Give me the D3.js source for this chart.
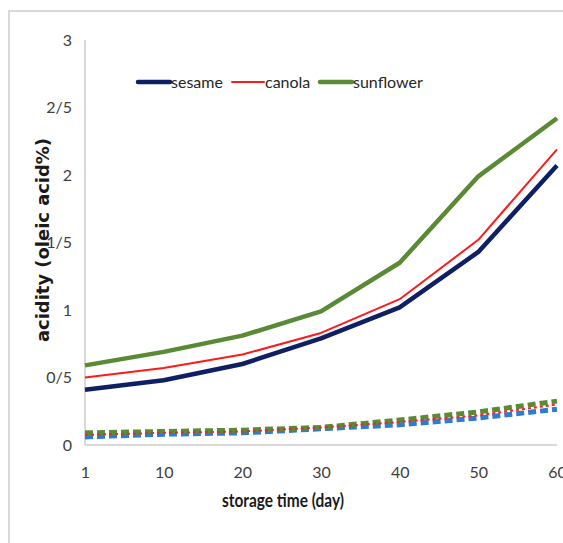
<meta charset="utf-8">

<style>
    body {
        margin: 0;
        background: #ffffff;
    }

    .tick text {
        font-family: Lato, sans-serif;
        font-size: 16px;
        fill: #404040;
    }
</style>

<body>
<script src="https://d3js.org/d3.v7.min.js"></script>
<script>

    const days = ["1", "10", "20", "30", "40", "50", "60"];
    const yTicks = [0, 0.5, 1, 1.5, 2, 2.5, 3];
    const yTickLabels = ["0", "0/5", "1", "1/5", "2", "2/5", "3"];

    // solid lines
    const sesame = [0.41, 0.48, 0.60, 0.79, 1.02, 1.43, 2.07];
    const canola = [0.50, 0.57, 0.67, 0.83, 1.08, 1.52, 2.19];
    const sunflower = [0.59, 0.69, 0.81, 0.99, 1.35, 1.99, 2.42];

    // dashed lines (unlabelled)
    const blueDash = [0.06, 0.08, 0.09, 0.12, 0.15, 0.20, 0.265];
    const redDot = [0.075, 0.09, 0.10, 0.13, 0.17, 0.22, 0.30];
    const greenDash = [0.09, 0.10, 0.11, 0.13, 0.185, 0.245, 0.325];

    let width = 563,
        height = 543;

    let svg = d3.select("body").append("svg")
        .attr("width", width)
        .attr("height", height);

    // outer frame
    svg.append("path")
        .attr("d", "M9," + height + "V11H" + width)
        .style("fill", "none")
        .style("stroke", "#d9d9d9")
        .style("stroke-width", 2);

    let xScale = d3.scalePoint()
        .domain(days)
        .range([85, 557]);

    let yScale = d3.scaleLinear()
        .domain([0, 3])
        .range([445, 40]);

    // axes
    let xAxis = svg.append("g")
        .attr("transform", "translate(0,445)")
        .call(d3.axisBottom(xScale).tickSize(0).tickPadding(22));
    xAxis.select(".domain")
        .attr("d", "M85,0H557")
        .style("stroke", "#d9d9d9")
        .style("stroke-width", 2);

    let yAxis = svg.append("g")
        .attr("transform", "translate(85,0)")
        .call(d3.axisLeft(yScale)
            .tickValues(yTicks)
            .tickFormat(function (d, i) { return yTickLabels[i]; })
            .tickSize(0)
            .tickPadding(13));
    yAxis.select(".domain")
        .attr("d", "M0,445V40")
        .style("stroke", "#d9d9d9")
        .style("stroke-width", 2);

    // axis titles
    svg.append("text")
        .attr("x", 283)
        .attr("y", 507)
        .attr("text-anchor", "middle")
        .attr("textLength", 122)
        .attr("lengthAdjust", "spacingAndGlyphs")
        .style("font-family", "Lato, sans-serif")
        .style("font-weight", "bold")
        .style("font-size", "19px")
        .style("fill", "#1a1a1a")
        .text("storage time (day)");

    svg.append("text")
        .attr("transform", "translate(49,240) rotate(-90)")
        .attr("text-anchor", "middle")
        .attr("textLength", 204)
        .attr("lengthAdjust", "spacingAndGlyphs")
        .style("font-family", "'DejaVu Sans', sans-serif")
        .style("font-weight", "bold")
        .style("font-size", "17px")
        .style("fill", "#1a1a1a")
        .text("acidity (oleic acid%)");

    let line = d3.line()
        .x(function (d, i) { return xScale(days[i]); })
        .y(function (d) { return yScale(d); });

    const dashed = [
        {values: redDot, color: "#ff2020", width: 2, dash: "3,3"},
        {values: blueDash, color: "#2e7bcf", width: 5, dash: "8,4"},
        {values: greenDash, color: "#5a8a35", width: 5, dash: "8,4"}
    ];
    // blue first so green and red lie on top like the reference
    [dashed[1], dashed[2], dashed[0]].forEach(function (s) {
        svg.append("path")
            .datum(s.values)
            .attr("d", line)
            .style("fill", "none")
            .style("stroke", s.color)
            .style("stroke-width", s.width)
            .style("stroke-dasharray", s.dash);
    });

    const series = [
        {name: "sesame", values: sesame, color: "#0e1f63", width: 4.5},
        {name: "canola", values: canola, color: "#ff1a1a", width: 2},
        {name: "sunflower", values: sunflower, color: "#5a8a35", width: 4.5}
    ];

    series.forEach(function (s) {
        svg.append("path")
            .datum(s.values)
            .attr("d", line)
            .style("fill", "none")
            .style("stroke", s.color)
            .style("stroke-width", s.width)
            .style("stroke-linejoin", "round");
    });

    // legend
    const legendX = [138, 232, 320];
    series.forEach(function (s, i) {
        let g = svg.append("g").attr("transform", "translate(" + legendX[i] + ",82)");
        g.append("line")
            .attr("x1", 0).attr("x2", 32)
            .style("stroke", s.color)
            .style("stroke-width", s.width)
            .style("stroke-linecap", "round");
        g.append("text")
            .attr("x", 33)
            .attr("y", 6)
            .style("font-family", "Lato, sans-serif")
            .style("font-size", "16px")
            .style("fill", "#262626")
            .text(s.name);
    });

</script>
